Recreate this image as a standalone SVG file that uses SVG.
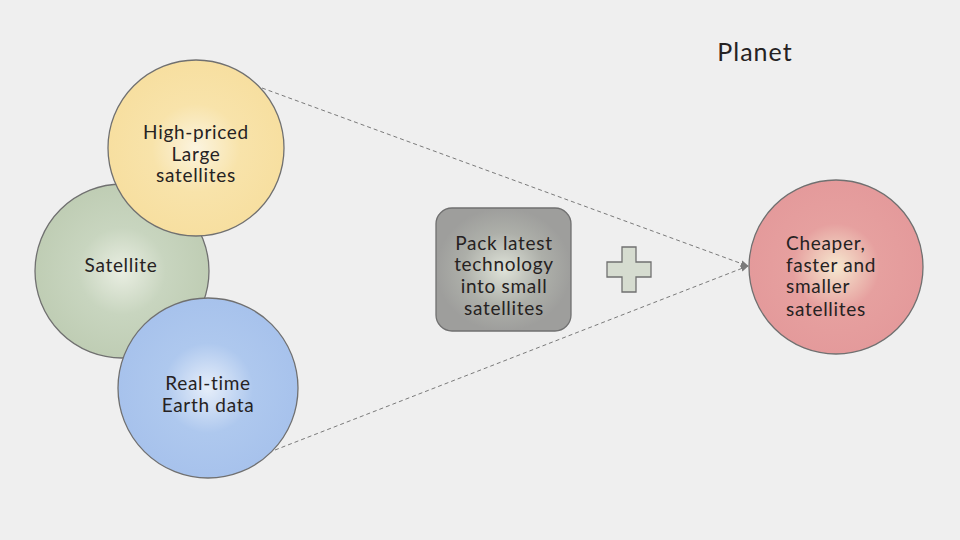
<svg xmlns="http://www.w3.org/2000/svg" width="960" height="540" viewBox="0 0 960 540">
<style>
.node{stroke:#707070;stroke-width:1.3}
.t{font-family:"Lato","Noto Sans",sans-serif;font-size:19px;letter-spacing:0.7px;fill:#262222}
.c{text-anchor:middle}
.conn{fill:none;stroke:#7a7a7a;stroke-width:1;stroke-dasharray:4 3}
</style>
<defs>
<radialGradient id="gy"><stop offset="0" stop-color="#fbf4df"/><stop offset="0.5" stop-color="#f8e3aa"/><stop offset="1" stop-color="#f7dfa0"/></radialGradient>
<radialGradient id="gg"><stop offset="0" stop-color="#e9eee2"/><stop offset="0.5" stop-color="#c8d5bf"/><stop offset="1" stop-color="#bfcdb4"/></radialGradient>
<radialGradient id="gb"><stop offset="0" stop-color="#e6eefa"/><stop offset="0.5" stop-color="#aec8ee"/><stop offset="1" stop-color="#a7c2ec"/></radialGradient>
<radialGradient id="gr"><stop offset="0" stop-color="#f6e8cf"/><stop offset="0.5" stop-color="#e6a09f"/><stop offset="1" stop-color="#e49a9b"/></radialGradient>
<radialGradient id="gs"><stop offset="0" stop-color="#dfe3d9"/><stop offset="0.6" stop-color="#adafa9"/><stop offset="1" stop-color="#9e9e9c"/></radialGradient>
<marker id="arr" viewBox="0 0 10 10" refX="9" refY="5" markerWidth="8" markerHeight="8" orient="auto" markerUnits="userSpaceOnUse"><path d="M0,1 L10,5 L0,9 z" fill="#7a7a7a"/></marker>
</defs>
<rect width="960" height="540" fill="#efefef"/>
<g id="connectors">
<path class="conn" d="M262,88 L748,266" marker-end="url(#arr)"/>
<path class="conn" d="M275,450 L748,266" marker-end="url(#arr)"/>
</g>
<g id="satellite">
<circle class="node" cx="122" cy="271" r="87" fill="url(#gg)"/>
<text class="t c" x="121" y="272">Satellite</text>
</g>
<g id="high-priced">
<circle class="node" cx="196" cy="148" r="88" fill="url(#gy)"/>
<text class="t c" x="196" y="139">High-priced</text>
<text class="t c" x="196" y="161">Large</text>
<text class="t c" x="196" y="182">satellites</text>
</g>
<g id="real-time">
<circle class="node" cx="208" cy="388" r="90" fill="url(#gb)"/>
<text class="t c" x="208" y="390">Real-time</text>
<text class="t c" x="208" y="412">Earth data</text>
</g>
<g id="pack">
<rect class="node" x="436" y="208" width="135" height="123" rx="16" fill="url(#gs)"/>
<text class="t c" x="504" y="250">Pack latest</text>
<text class="t c" x="504" y="271">technology</text>
<text class="t c" x="504" y="293">into small</text>
<text class="t c" x="504" y="315">satellites</text>
</g>
<g id="plus">
<path class="node" d="M622,247 H636 V262 H651 V277 H636 V292 H622 V277 H607 V262 H622 Z" fill="#d6dcd0"/>
</g>
<g id="cheaper">
<circle class="node" cx="836" cy="267" r="87" fill="url(#gr)"/>
<text class="t" x="786" y="250">Cheaper,</text>
<text class="t" x="786" y="272">faster and</text>
<text class="t" x="786" y="293">smaller</text>
<text class="t" x="786" y="316">satellites</text>
</g>
<g id="planet">
<text class="t c" x="755" y="61" style="font-size:25px;letter-spacing:1px">Planet</text>
</g>
</svg>
